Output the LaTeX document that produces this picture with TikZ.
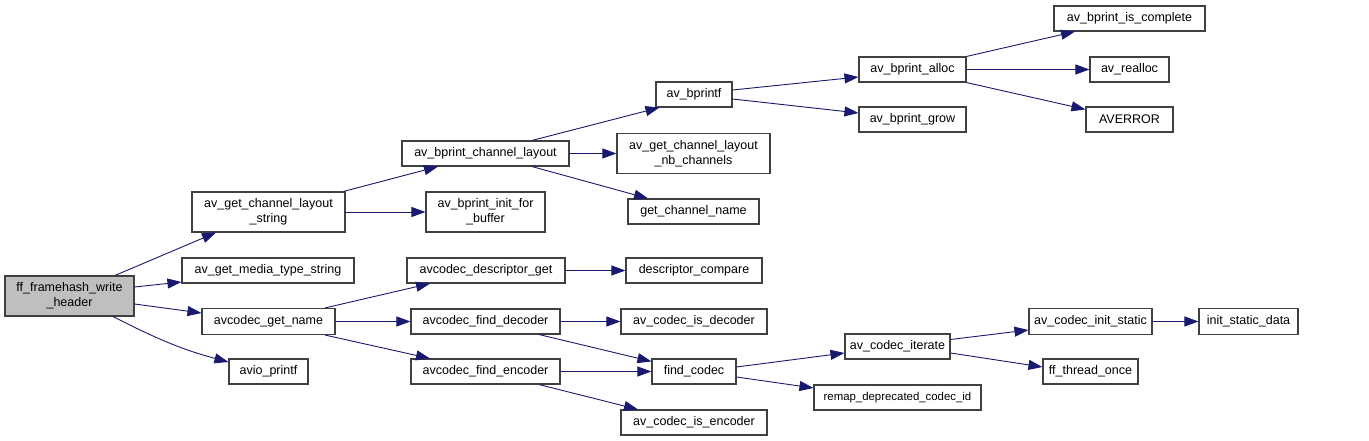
\documentclass[tikz,border=0pt]{standalone}
\usepackage{fontspec}
\setmainfont{Liberation Sans}
\usetikzlibrary{arrows.meta}
\definecolor{edgeblue}{RGB}{25,25,112}
\definecolor{boxborder}{RGB}{64,64,64}
\definecolor{rootfill}{RGB}{191,191,191}
\begin{document}
\begin{tikzpicture}[x=1pt,y=-1pt,
  box/.style={draw=boxborder,line width=1.1pt,fill=white,inner sep=0pt,align=center,
    font=\fontsize{12.5}{15}\selectfont},
  call/.style={draw=edgeblue,line width=0.9pt,-{Triangle[length=14pt,width=10pt,fill=edgeblue]}}]
\useasboundingbox (0,0) rectangle (1369,441);
% nodes
\node[box,fill=rootfill,minimum width=129,minimum height=40] (ff) at (69.5,296) {ff\_framehash\_write\\\_header};
\node[box,minimum width=153,minimum height=40] (agcls) at (268.5,212) {av\_get\_channel\_layout\\\_string};
\node[box,minimum width=172,minimum height=25] (amts) at (268,270.5) {av\_get\_media\_type\_string};
\node[box,minimum width=133,minimum height=26] (agn) at (268.5,321.5) {avcodec\_get\_name};
\node[box,minimum width=79,minimum height=25] (avio) at (268.5,371.5) {avio\_printf};
\node[box,minimum width=167,minimum height=25] (bcl) at (485.5,153.5) {av\_bprint\_channel\_layout};
\node[box,minimum width=119,minimum height=40] (bifb) at (485.5,212) {av\_bprint\_init\_for\\\_buffer};
\node[box,minimum width=76,minimum height=25] (bprintf) at (694,94.5) {av\_bprintf};
\node[box,minimum width=153,minimum height=40] (nbc) at (693.5,153.5) {av\_get\_channel\_layout\\\_nb\_channels};
\node[box,minimum width=131,minimum height=25] (gcn) at (693.5,211.5) {get\_channel\_name};
\node[box,minimum width=107,minimum height=25] (bpa) at (912.5,69.5) {av\_bprint\_alloc};
\node[box,minimum width=107,minimum height=25] (bpg) at (912.5,119.5) {av\_bprint\_grow};
\node[box,minimum width=151,minimum height=25] (bic) at (1129.5,18.5) {av\_bprint\_is\_complete};
\node[box,minimum width=79,minimum height=25] (rea) at (1129.5,69.5) {av\_realloc};
\node[box,minimum width=87,minimum height=25] (ave) at (1129.5,119.5) {AVERROR};
\node[box,minimum width=158,minimum height=25] (adg) at (486,270.5) {avcodec\_descriptor\_get};
\node[box,minimum width=136,minimum height=25] (dcm) at (694,270.5) {descriptor\_compare};
\node[box,minimum width=149,minimum height=25] (afd) at (485.5,321.5) {avcodec\_find\_decoder};
\node[box,minimum width=146,minimum height=25] (acid) at (694,321.5) {av\_codec\_is\_decoder};
\node[box,minimum width=149,minimum height=25] (afe) at (485.5,371.5) {avcodec\_find\_encoder};
\node[box,minimum width=84,minimum height=25] (fc) at (694,371.5) {find\_codec};
\node[box,minimum width=146,minimum height=25] (acie) at (694,422.5) {av\_codec\_is\_encoder};
\node[box,minimum width=105,minimum height=25] (aci) at (897.5,346.5) {av\_codec\_iterate};
\node[box,minimum width=167,minimum height=25] (rdc) at (897.5,397.5) {\fontsize{11.4}{15}\selectfont remap\_deprecated\_codec\_id};
\node[box,minimum width=123,minimum height=26] (acis) at (1090.5,321.5) {av\_codec\_init\_static};
\node[box,minimum width=95,minimum height=25] (fto) at (1090.5,371.5) {ff\_thread\_once};
\node[box,minimum width=99,minimum height=26] (isd) at (1248.5,321.5) {init\_static\_data};
% edges
\draw[call] ([xshift=45.5pt]ff.north) -- ([xshift=-52.5pt]agcls.south);
\draw[call] ([yshift=9pt]ff.east) -- ([yshift=-11.5pt]amts.west);
\draw[call] ([yshift=-8pt]ff.east) -- ([yshift=8.5pt]agn.west);
\draw[call] ([xshift=43.5pt]ff.south) to[out=-27,in=165] ([yshift=9.5pt]avio.west);
\draw[call] ([xshift=-2pt]agcls.north east) -- ([xshift=-47.5pt]bcl.south);
\draw[call] (agcls.east) -- (bifb.west);
\draw[call] ([xshift=46.5pt]bcl.north) -- ([xshift=4pt]bprintf.south west);
\draw[call] (bcl.east) -- (nbc.west);
\draw[call] ([xshift=46.5pt]bcl.south) -- ([xshift=-45.5pt]gcn.north);
\draw[call] ([yshift=4.5pt]bprintf.east) -- ([yshift=-7.5pt]bpa.west);
\draw[call] ([yshift=-4.5pt]bprintf.east) -- ([yshift=6.5pt]bpg.west);
\draw[call] (bpa.north east) -- ([xshift=-54.5pt]bic.south);
\draw[call] (bpa.east) -- (rea.west);
\draw[call] (bpa.south east) -- ([yshift=-3pt]ave.north west);
\draw[call] ([xshift=56.5pt]agn.north) -- ([xshift=-56pt]adg.south);
\draw[call] (agn.east) -- (afd.west);
\draw[call] ([xshift=56.5pt]agn.south) -- ([xshift=-55.5pt]afe.north);
\draw[call] (adg.east) -- (dcm.west);
\draw[call] (afd.east) -- (acid.west);
\draw[call] ([xshift=53.5pt]afd.south) -- ([yshift=-3pt]fc.north west);
\draw[call] (afe.east) -- (fc.west);
\draw[call] ([xshift=53.5pt]afe.south) -- ([xshift=-56pt]acie.north);
\draw[call] ([yshift=4.5pt]fc.east) -- ([yshift=-6.5pt]aci.west);
\draw[call] ([yshift=-5.5pt]fc.east) -- ([yshift=9.5pt]rdc.west);
\draw[call] ([yshift=7pt]aci.east) -- ([yshift=-8.5pt]acis.west);
\draw[call] ([yshift=-6.5pt]aci.east) -- ([yshift=4.5pt]fto.west);
\draw[call] (acis.east) -- (isd.west);
\end{tikzpicture}
\end{document}
